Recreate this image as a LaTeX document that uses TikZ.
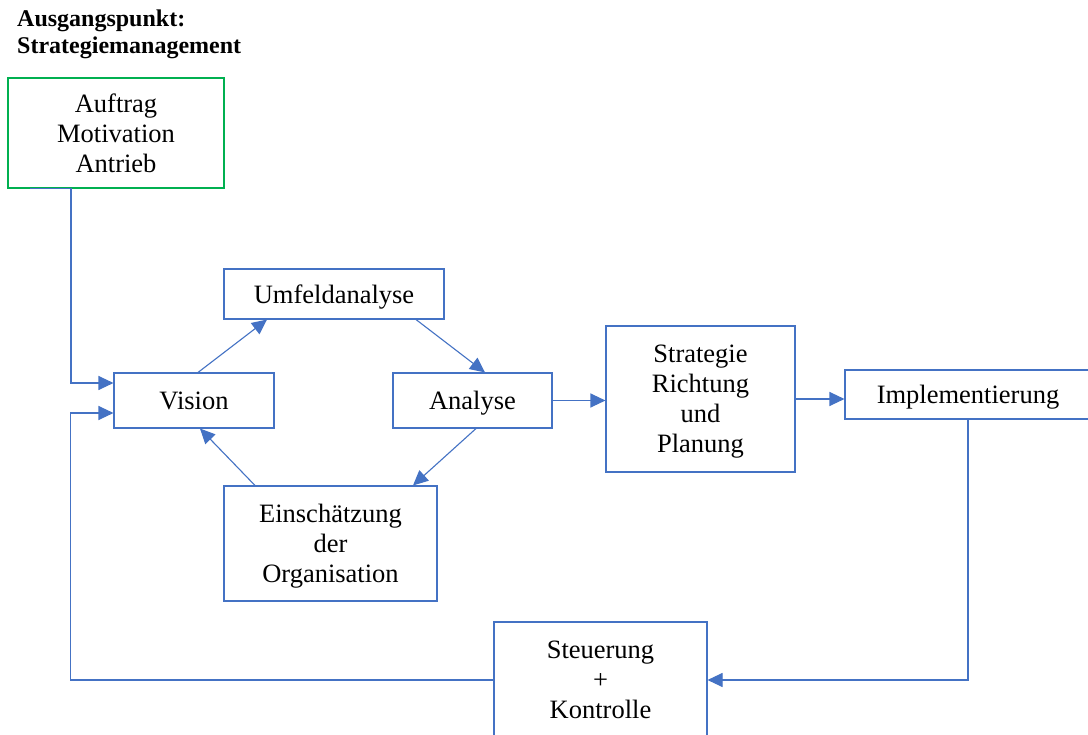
\documentclass[tikz,border=0pt]{standalone}
\usepackage{fontspec}
\setmainfont{Liberation Serif}
\usepackage{tikz}
\usetikzlibrary{arrows.meta, positioning}

\definecolor{wordblue}{HTML}{4472C4}
\definecolor{wordgreen}{HTML}{00B050}

\tikzset{
  box/.style={draw=wordblue, line width=1.1pt, inner sep=0pt, align=center,
    text depth=0pt, font=\fontsize{26.5}{30}\selectfont},
  conn/.style={wordblue, line width=1.1pt, -{Triangle[length=15pt,width=14pt]}},
  titletext/.style={anchor=base west, inner sep=0pt, font=\fontsize{24}{27}\selectfont\bfseries},
}

\begin{document}
\begin{tikzpicture}[x=1pt, y=-1pt]
  \useasboundingbox[fill=white] (0,0) rectangle (1088,735);

  % Titel
  \node[titletext] (title) at (17,27) {Ausgangspunkt:};
  \node[titletext] (title2) at (17,54) {Strategiemanagement};

  % Kasten
  \node[box, draw=wordgreen, minimum width=216, minimum height=110] (auftrag) at (116,133)
    {Auftrag\\Motivation\\Antrieb};
  \node[box, minimum width=160, minimum height=55] (vision) at (194,400.5) {Vision};
  \node[box, minimum width=220, minimum height=50] (umfeld) at (334,294) {Umfeldanalyse};
  \node[box, minimum width=159, minimum height=55] (analyse) at (472.5,400.5) {Analyse};
  \node[box, minimum width=213, minimum height=115] (einsch) at (330.5,543.5)
    {Einschätzung\\der\\Organisation};
  \node[box, minimum width=189, minimum height=146] (strategie) at (700.5,399)
    {Strategie\\Richtung\\und\\Planung};
  \node[box, minimum width=246, minimum height=49] (impl) at (968,394.5) {Implementierung};
  \node[box, minimum width=213, minimum height=116] (steuerung) at (600.5,680)
    {Steuerung\\+\\Kontrolle};

  % Kreislauf
  \draw[conn] ([xshift=4]vision.north) -- ([xshift=-67]umfeld.south);
  \draw[conn] ([xshift=82]umfeld.south) -- ([xshift=12.5]analyse.north);
  \draw[conn] ([xshift=3.5]analyse.south) -- ([xshift=82.5]einsch.north);
  \draw[conn] ([xshift=-75.5]einsch.north) -- ([xshift=6]vision.south);

  % Hauptfluss
  \draw[conn] (analyse.east) -- (analyse.east -| strategie.west);
  \draw[conn] (strategie.east) -- (strategie.east -| impl.west);

  % Rueckkopplung
  \draw[conn] ([xshift=-86]auftrag.south) -- ([xshift=-45]auftrag.south)
    |- ([yshift=17.5]vision.west);
  \draw[conn] ([xshift=-21]impl.south) -- (impl.south) |- (steuerung.east);
  \draw[conn] (steuerung.west) -| ([xshift=-43,yshift=-12.5]vision.west)
    -- ([yshift=-12.5]vision.west);
\end{tikzpicture}
\end{document}
